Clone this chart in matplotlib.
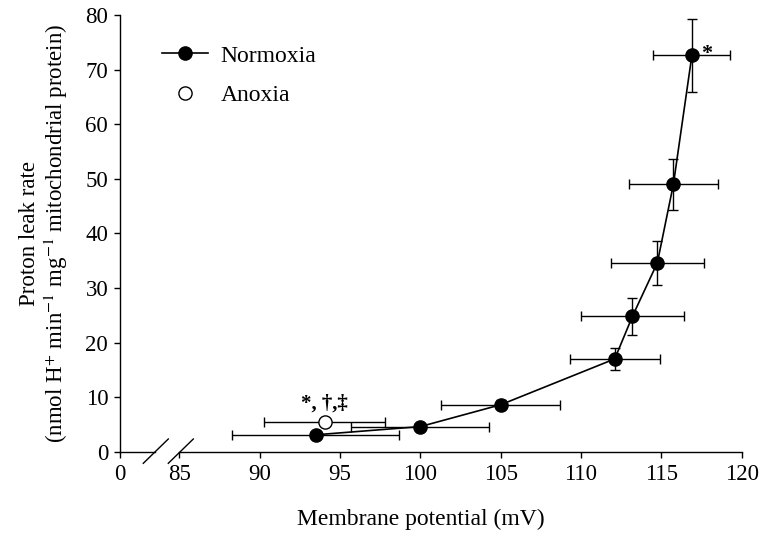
import numpy as np
import matplotlib
matplotlib.use('Agg')
import matplotlib.pyplot as plt
from matplotlib.lines import Line2D

plt.rcParams['font.family'] = ['Liberation Serif', 'DejaVu Serif']
plt.rcParams['mathtext.fontset'] = 'stix'

# Normoxia: membrane potential (mV) vs proton leak rate
norm_x = [93.5, 100.0, 105.0, 112.1, 113.2, 114.75, 115.75, 116.9]
norm_y = [3.1, 4.6, 8.6, 17.0, 24.8, 34.6, 49.0, 72.6]
norm_xerr = [5.2, 4.3, 3.7, 2.8, 3.2, 2.9, 2.75, 2.4]
norm_yerr = [0.6, 0.5, 0.8, 2.0, 3.4, 4.0, 4.7, 6.7]

# Anoxia
anox_x = [94.05]
anox_y = [5.4]
anox_xerr = [3.75]
anox_yerr = [0.5]

W, H = 773, 535
fig = plt.figure(figsize=(W / 100, H / 100), dpi=100)

x0, x_brk1, x_brk2, x1 = 120, 155, 179.3, 741.7
y_bot, y_top = 451.7, 15
bottom = 1 - y_bot / H
height = (y_bot - y_top) / H

ax1 = fig.add_axes([x0 / W, bottom, (x_brk1 - x0) / W, height])
ax2 = fig.add_axes([x_brk2 / W, bottom, (x1 - x_brk2) / W, height])

for ax in (ax1, ax2):
    ax.set_ylim(0, 80)
    ax.spines['top'].set_visible(False)
    ax.spines['right'].set_visible(False)
    for s in ax.spines.values():
        s.set_linewidth(1.0)
    ax.tick_params(direction='out', length=4.5, width=1.0, labelsize=16.5, pad=4)
    ax.patch.set_visible(False)

ax1.set_xlim(0, 2)
ax1.set_xticks([0])
ax1.set_yticks(np.arange(0, 81, 10))
ax2.set_xlim(85, 120)
ax2.set_xticks(np.arange(85, 121, 5))
ax2.spines['left'].set_visible(False)
ax2.set_yticks([])

ax2.errorbar(norm_x, norm_y, xerr=norm_xerr, yerr=norm_yerr, fmt='none',
             ecolor='black', elinewidth=1.0, capsize=3.6, capthick=1.0, clip_on=False)
ax2.plot(norm_x, norm_y, '-o', color='black', lw=1.2, markersize=9.5,
         mfc='black', mec='black', label='Normoxia', clip_on=False, zorder=4)
ax2.errorbar(anox_x, anox_y, xerr=anox_xerr, yerr=anox_yerr, fmt='none',
             ecolor='black', elinewidth=1.0, capsize=3.6, capthick=1.0, zorder=3)
ax2.plot(anox_x, anox_y, 'o', color='black', markersize=9.5, mfc='white',
         mec='black', mew=1.0, label='Anoxia', zorder=5)

ax2.text(117.45, 72.8, '*', fontsize=16, fontweight='bold', ha='left', va='center')
ax2.text(94.0, 8.9, '*, \u2020,\u2021', fontsize=15, fontweight='bold',
         ha='center', va='center')

ax1.set_ylabel('Proton leak rate\n(nmol H$^{+}$ min$^{-1}$ mg$^{-1}$ mitochondrial protein)',
               fontsize=16.5, linespacing=1.1, labelpad=11)
fig.text(421 / W, 1 - 519 / H, 'Membrane potential (mV)', fontsize=17,
         ha='center', va='center')

# axis break marks
for xa, xb in [(143.3, 168.3), (168.3, 193.3)]:
    fig.add_artist(Line2D([xa / W, xb / W], [1 - 463.3 / H, 1 - 439 / H],
                          color='black', lw=1.0, transform=fig.transFigure))

leg = ax2.legend(loc='upper left', bbox_to_anchor=(161.7 / W, 1 - 45 / H),
                 bbox_transform=fig.transFigure, frameon=False, fontsize=17,
                 handlelength=1.95, handletextpad=0.55, labelspacing=0.75,
                 borderpad=0, borderaxespad=0)

fig.savefig('out.png', dpi=100)
